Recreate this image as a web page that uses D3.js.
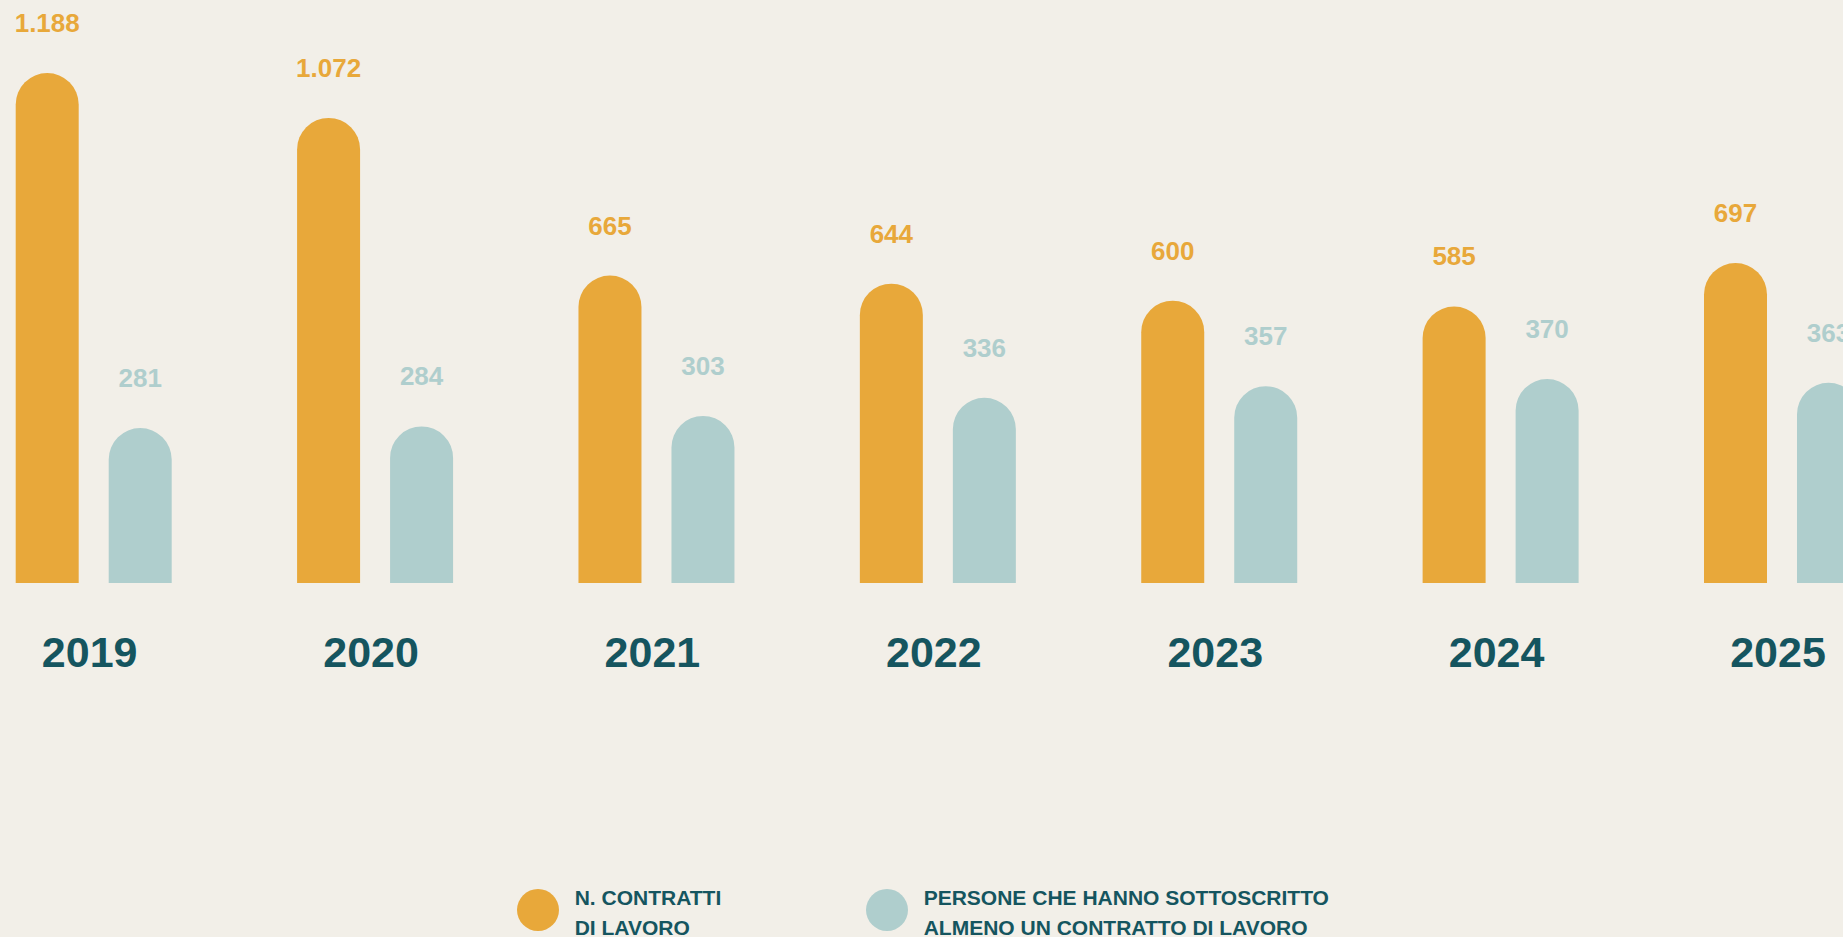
<!DOCTYPE html>
<html>
<head>
<meta charset="utf-8">
<script src="https://cdn.jsdelivr.net/npm/d3@7"></script>
<style>
  html, body { margin: 0; padding: 0; background: #f2efe8; overflow: hidden; }
  text { font-family: "Liberation Sans", Arial, Helvetica, sans-serif; font-weight: bold; }
</style>
</head>
<body>
<div id="chart"></div>
<script>
// data
var years = ["2019", "2020", "2021", "2022", "2023", "2024", "2025"];
var contratti = [1188, 1072, 665, 644, 600, 585, 697];
var persone = [281, 284, 303, 336, 357, 370, 363];
var seriesKeys = ["contratti", "persone"];
var legendLabels = [["N. CONTRATTI", "DI LAVORO"], ["PERSONE CHE HANNO SOTTOSCRITTO", "ALMENO UN CONTRATTO DI LAVORO"]];

var width = 1843;
var height = 937;
var baseline = 583;

const ORANGE = "#e8a83a";
const TEAL = "#afcecd";
const DARK = "#15555f";

var colors = { contratti: ORANGE, persone: TEAL };

// italian number format: 1.188
var itFormat = d3.formatLocale({ decimal: ",", thousands: ".", grouping: [3], currency: ["€", ""] }).format(",");

var svg = d3.select("#chart")
    .append("svg")
    .attr("width", width)
    .attr("height", height)
    .style("background-color", "#f2efe8");

var x = d3.scaleBand()
    .domain(years)
    .range([15.7, 1860])
    .paddingInner(0.4456)
    .paddingOuter(0);

var xInner = d3.scaleBand()
    .domain(seriesKeys)
    .range([0, x.bandwidth()])
    .paddingInner(0.3226)
    .paddingOuter(0);

// the two series are drawn on their own scales in the original
var yScales = {
    contratti: d3.scaleLinear().domain([0, d3.max(contratti)]).range([baseline - 50, 73]),
    persone: d3.scaleLinear().domain([0, d3.max(persone)]).range([baseline, 379])
};

var rows = years.map(function (y, i) {
    return { year: y, contratti: contratti[i], persone: persone[i] };
});

// bar with a half circle on top
function archBar(x0, top, w, bottom) {
    var r = w / 2;
    return "M" + x0 + "," + bottom +
        "L" + x0 + "," + (top + r) +
        "A" + r + "," + r + " 0 0 1 " + (x0 + w) + "," + (top + r) +
        "L" + (x0 + w) + "," + bottom + "Z";
}

var groups = svg.selectAll("g.year")
    .data(rows)
    .enter()
    .append("g")
    .attr("class", "year")
    .attr("transform", function (d) { return "translate(" + x(d.year) + ",0)"; });

var bars = groups.selectAll("g.bar")
    .data(function (d) { return seriesKeys.map(function (k) { return { key: k, value: d[k] }; }); })
    .enter()
    .append("g")
    .attr("class", "bar");

bars.append("path")
    .attr("d", function (d) {
        return archBar(xInner(d.key), yScales[d.key](d.value), xInner.bandwidth(), baseline);
    })
    .attr("fill", function (d) { return colors[d.key]; });

bars.append("text")
    .attr("x", function (d) { return xInner(d.key) + xInner.bandwidth() / 2; })
    .attr("y", function (d) { return yScales[d.key](d.value) - 41; })
    .attr("text-anchor", "middle")
    .attr("font-size", "26px")
    .attr("fill", function (d) { return colors[d.key]; })
    .text(function (d) { return itFormat(d.value); });

groups.append("text")
    .attr("x", x.bandwidth() / 2 - 4)
    .attr("y", 667)
    .attr("text-anchor", "middle")
    .attr("font-size", "43px")
    .attr("fill", DARK)
    .text(function (d) { return d.year; });

// legend
var legendX = [538, 887];
var legend = svg.selectAll("g.legend")
    .data(seriesKeys)
    .enter()
    .append("g")
    .attr("class", "legend")
    .attr("transform", function (d, i) { return "translate(" + legendX[i] + ",910)"; });

legend.append("circle")
    .attr("r", 21)
    .attr("fill", function (d) { return colors[d]; });

legend.each(function (d, i) {
    var t = d3.select(this).append("text")
        .attr("x", 36.7)
        .attr("y", -5)
        .attr("font-size", "21px")
        .attr("fill", DARK);
    legendLabels[i].forEach(function (line, j) {
        t.append("tspan")
            .attr("x", 36.7)
            .attr("dy", j === 0 ? 0 : 29.5)
            .text(line);
    });
});
</script>
</body>
</html>
